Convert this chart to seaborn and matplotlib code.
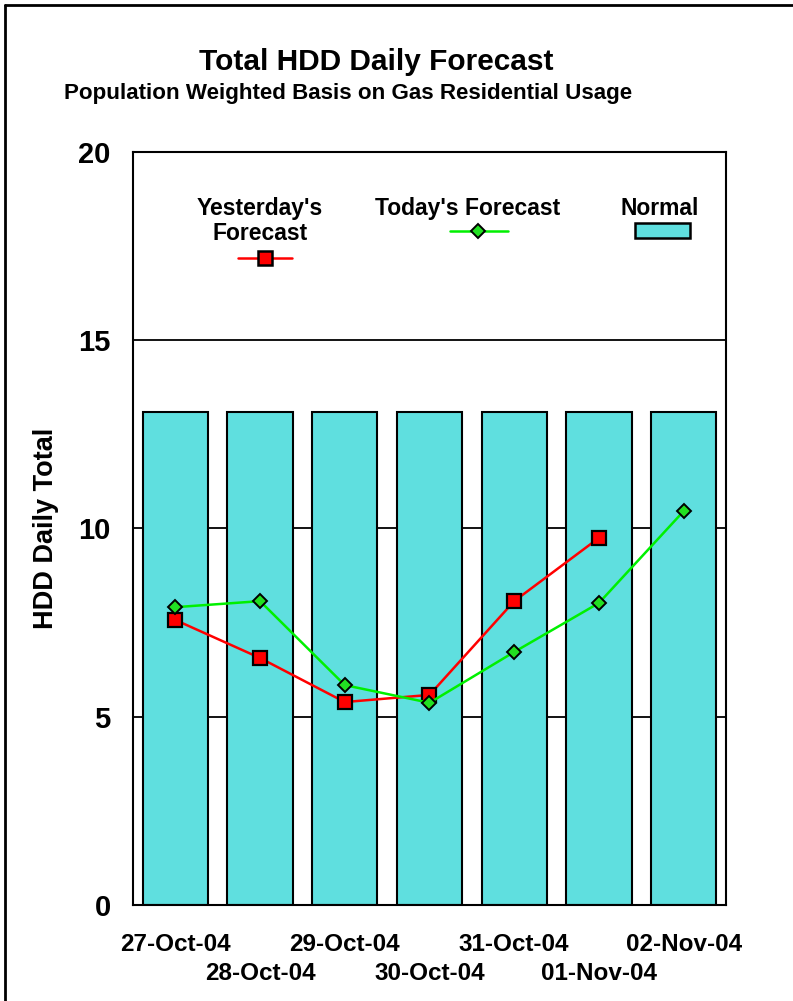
import numpy as np
import pandas as pd
import matplotlib
matplotlib.use("Agg")
import matplotlib.pyplot as plt
import seaborn as sns
from matplotlib.lines import Line2D
from matplotlib.patches import Rectangle

dates = ["27-Oct-04", "28-Oct-04", "29-Oct-04", "30-Oct-04",
         "31-Oct-04", "01-Nov-04", "02-Nov-04"]
normal = [13.1, 13.1, 13.1, 13.1, 13.1, 13.1, 13.1]
yesterday = [7.57, 6.56, 5.39, 5.58, 8.07, 9.75]
today = [7.91, 8.07, 5.84, 5.37, 6.72, 8.02, 10.46]

CYAN = "#5FDFDF"
RED = "#FF0000"
GREEN = "#00F000"
GREEN_MK = "#22E022"

sns.set_style("white")
plt.rcParams["font.family"] = ["Liberation Sans", "DejaVu Sans"]
plt.rcParams["font.weight"] = "bold"
plt.rcParams["text.color"] = "black"
plt.rcParams["axes.labelcolor"] = "black"
plt.rcParams["xtick.color"] = "black"
plt.rcParams["ytick.color"] = "black"

fig = plt.figure(figsize=(7.93, 10.01), dpi=100)
ax = fig.add_axes([0.1677, 0.0959, 0.7478, 0.7523])

df = pd.DataFrame({"date": dates, "normal": normal})
sns.barplot(data=df, x="date", y="normal", color=CYAN, saturation=1,
            width=0.77, edgecolor="black", linewidth=1.5, ax=ax, zorder=2)

x = np.arange(len(dates))
ax.plot(x[:len(yesterday)], yesterday, color=RED, lw=1.8, marker="s",
        ms=9.5, mfc=RED, mec="black", mew=1.6, zorder=4)
ax.plot(x, today, color=GREEN, lw=1.8, marker="D", ms=7,
        mfc=GREEN_MK, mec="black", mew=1.4, zorder=5)

ax.set_ylim(0, 20)
ax.set_xlim(-0.5, len(dates) - 0.5)
ax.set_yticks([0, 5, 10, 15, 20])
for yv in [5, 10, 15]:
    ax.axhline(yv, color="black", lw=1.3, zorder=1)

# staggered date labels: even ones as major ticks, odd ones as minor ticks
ax.set_xticks(x[::2], [dates[i] for i in x[::2]])
ax.set_xticks(x[1::2], [dates[i] for i in x[1::2]], minor=True)
ax.tick_params(axis="x", which="both", length=0, labelsize=17.5)
ax.tick_params(axis="x", which="major", pad=20)
ax.tick_params(axis="x", which="minor", pad=41)
for t in ax.get_xticklabels(which="both"):
    t.set_fontweight("bold")
ax.tick_params(axis="y", length=0, pad=16, labelsize=21)
for t in ax.get_yticklabels():
    t.set_fontweight("bold")
ax.set_xlabel("")
ax.set_ylabel("HDD Daily Total", fontsize=19.5, fontweight="bold", labelpad=14)

for s in ax.spines.values():
    s.set_visible(True)
    s.set_color("black")
    s.set_linewidth(1.5)


# legend, drawn in axes coordinates
def ax_pos(px, py):
    return (px - 133) / 593, (905 - py) / 753


LEG_FS = 16.5
for label, px, py in [("Yesterday's", 260, 209), ("Forecast", 260, 234),
                      ("Today's Forecast", 468, 209), ("Normal", 660, 209)]:
    tx, ty = ax_pos(px, py)
    ax.text(tx, ty, label, transform=ax.transAxes, ha="center",
            va="center", fontsize=LEG_FS, fontweight="bold")

x0, yy = ax_pos(238, 258)
x1, _ = ax_pos(292, 258)
xm, _ = ax_pos(265, 258)
ax.add_line(Line2D([x0, x1], [yy, yy], color=RED, lw=1.8, transform=ax.transAxes))
ax.add_line(Line2D([xm], [yy], marker="s", ms=10.5, mfc=RED, mec="black", mew=1.8,
                   transform=ax.transAxes))
x0, yy = ax_pos(450, 231)
x1, _ = ax_pos(508, 231)
xm, _ = ax_pos(478, 231)
ax.add_line(Line2D([x0, x1], [yy, yy], color=GREEN, lw=1.8, transform=ax.transAxes))
ax.add_line(Line2D([xm], [yy], marker="D", ms=7, mfc=GREEN_MK, mec="black", mew=1.4,
                   transform=ax.transAxes))
rx, ry = ax_pos(635, 238)
rw = 55 / 593
rh = 15 / 753
ax.add_patch(Rectangle((rx, ry), rw, rh, facecolor=CYAN, edgecolor="black",
                       lw=1.8, transform=ax.transAxes, zorder=6))

fig.text(376 / 793, 1 - 62 / 1001, "Total HDD Daily Forecast", ha="center",
         va="center", fontsize=21.5, fontweight="bold")
fig.text(348 / 793, 1 - 94 / 1001, "Population Weighted Basis on Gas Residential Usage",
         ha="center", va="center", fontsize=16.1, fontweight="bold")

# frame on the left and top edge of the figure
fig.add_artist(Line2D([5 / 793, 5 / 793], [0, 1 - 5 / 1001], color="black", lw=2,
                      transform=fig.transFigure))
fig.add_artist(Line2D([5 / 793, 1], [1 - 5 / 1001, 1 - 5 / 1001], color="black", lw=2,
                      transform=fig.transFigure))

fig.savefig("out.png", dpi=100)
